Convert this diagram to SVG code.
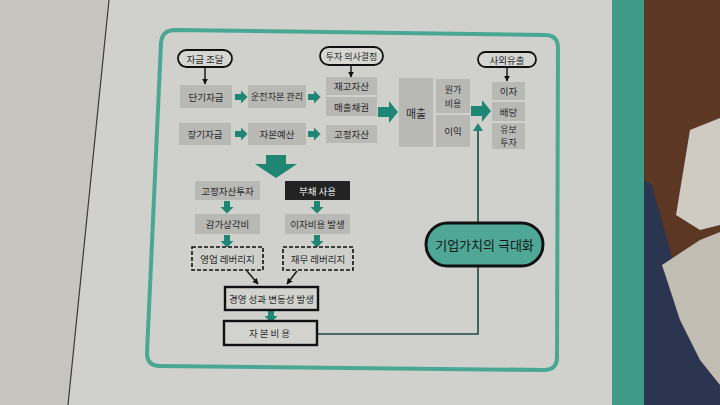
<svg xmlns="http://www.w3.org/2000/svg" xmlns:xlink="http://www.w3.org/1999/xlink" width="720" height="405" viewBox="0 0 720 405">
<style>
text{font-family:"Noto Sans CJK KR","Noto Sans",sans-serif;fill:#2a2a2a;font-size:9.5px;text-anchor:middle;dominant-baseline:central}
.sm{font-size:9px}
.box{fill:#b8b8b5}
.pill{fill:#d6d7d3;stroke:#111;stroke-width:1.8}
.dash{fill:#cfd0cc;stroke:#111;stroke-width:1.6;stroke-dasharray:4 2}
.solid{fill:#d2d3cf;stroke:#111;stroke-width:2.4}
.ga{fill:#1e8672}
.bl{stroke:#111;stroke-width:1.4;fill:none;marker-end:url(#bh)}
</style>
<defs>
<marker id="bh" viewBox="0 0 10 10" refX="9" refY="5" markerWidth="6" markerHeight="6" orient="auto" markerUnits="userSpaceOnUse"><path d="M0,0 L10,5 L0,10 Z" fill="#111"/></marker>
<path id="sa" d="M-6,-3 H0 V-6.5 L6.5,0 L0,6.5 V3 H-6 Z"/>
<path id="ba" d="M-10,-5 H1 V-11 L10,0 L1,11 V5 H-10 Z"/>
</defs>
<!-- background -->
<rect x="0" y="0" width="720" height="405" fill="#d0d1cd"/>
<path d="M0,0 H109 L68,405 H0 Z" fill="#c6c5bf"/>
<path d="M109,0 L68,405" stroke="#3a3a36" stroke-width="1.2"/>
<rect x="612" y="0" width="32" height="405" fill="#3f9a88"/>
<rect x="644" y="0" width="76" height="405" fill="#5b3724"/>
<path d="M644,180 L652,185 L670,250 L700,330 L720,360 V405 H644 Z" fill="#2c3550"/>
<path d="M676,215 L690,130 L720,118 V225 L700,230 Z" fill="#cfcbc2"/>
<path d="M662,265 L700,240 L720,232 V385 L700,360 L680,320 Z" fill="#c2bdb2"/>
<!-- frame -->
<path d="M175,30 L545,35 Q558,35 558,48 L557,357 Q557,370 544,370 L160,366 Q147,366 147,353 L161,43 Q162,30 175,30 Z" fill="none" stroke="#4aa892" stroke-width="4"/>

<g id="connectors">
<line class="bl" x1="205" y1="67" x2="205" y2="84"/>
<line class="bl" x1="351" y1="65" x2="351" y2="77"/>
<line class="bl" x1="507" y1="67" x2="507" y2="81"/>
<use href="#sa" class="ga" x="241" y="97"/>
<use href="#sa" class="ga" x="314" y="97"/>
<use href="#sa" class="ga" x="241" y="134"/>
<use href="#sa" class="ga" x="314" y="134"/>
<use href="#ba" class="ga" x="388" y="112"/>
<use href="#ba" class="ga" x="481" y="111"/>
<path class="ga" d="M266,155 H286 V164 H297 L276,178 L255,164 H266 Z"/>
<use href="#sa" class="ga" transform="translate(227,207) rotate(90)"/>
<use href="#sa" class="ga" transform="translate(317,207) rotate(90)"/>
<use href="#sa" class="ga" transform="translate(227,241) rotate(90)"/>
<use href="#sa" class="ga" transform="translate(317,241) rotate(90)"/>
<line class="bl" x1="247" y1="271" x2="258" y2="284"/>
<line class="bl" x1="297" y1="271" x2="287" y2="284"/>
<use href="#sa" class="ga" transform="translate(271,316) rotate(90)"/>
<path d="M317,334 H478 V130" fill="none" stroke="#1c4a40" stroke-width="1.6"/>
<path class="ga" d="M473,131 L478,123 L483,131 Z"/>
</g>

<g id="n-jageum"><rect class="pill" x="178" y="50" width="54" height="17" rx="8.5"/><text x="205" y="58.5">자금 조달</text></g>
<g id="n-tuja"><rect class="pill" x="320" y="47" width="63" height="18" rx="9"/><text x="351.5" y="56" class="sm">투자 의사결정</text></g>
<g id="n-saoe"><rect class="pill" x="478" y="52" width="58" height="15" rx="7.5"/><text x="507" y="59.5">사외유출</text></g>

<g id="n-dangi"><rect class="box" x="180" y="85" width="52" height="23"/><text x="206" y="96.5">단기자금</text></g>
<g id="n-unjeon"><rect class="box" x="248" y="85" width="58" height="23"/><text x="277" y="96.5" class="sm" textLength="52" lengthAdjust="spacingAndGlyphs">운전자본 관리</text></g>
<g id="n-janggi"><rect class="box" x="179" y="123" width="52" height="22"/><text x="205" y="134">장기자금</text></g>
<g id="n-jabonyesan"><rect class="box" x="248" y="123" width="58" height="22"/><text x="277" y="134">자본예산</text></g>
<g id="n-jaego"><rect class="box" x="326" y="77" width="51" height="18"/><text x="351.5" y="86">재고자산</text></g>
<g id="n-maechulchae"><rect class="box" x="326" y="97" width="51" height="19"/><text x="351.5" y="106.5">매출채권</text></g>
<g id="n-gojeong"><rect class="box" x="326" y="125" width="51" height="18"/><text x="351.5" y="134">고정자산</text></g>
<g id="n-maechul"><rect class="box" x="399" y="78" width="34" height="69"/><text x="416" y="112.5" style="font-size:11px">매출</text></g>
<g id="n-wonga"><rect class="box" x="436" y="79" width="34" height="34"/><text x="453" y="89" class="sm">원가</text><text x="453" y="103" class="sm">비용</text></g>
<g id="n-iik"><rect class="box" x="436" y="115" width="34" height="32"/><text x="453" y="131">이익</text></g>
<g id="n-ija"><rect class="box" x="492" y="82" width="33" height="18"/><text x="508.5" y="91">이자</text></g>
<g id="n-baedang"><rect class="box" x="492" y="102" width="33" height="19"/><text x="508.5" y="111.5">배당</text></g>
<g id="n-yubo"><rect class="box" x="492" y="123" width="33" height="26"/><text x="508.5" y="129" class="sm">유보</text><text x="508.5" y="142.5" class="sm">투자</text></g>

<g id="n-gojeongtuja"><rect class="box" x="195" y="181" width="65" height="19"/><text x="227.5" y="190.5">고정자산투자</text></g>
<g id="n-buchae"><rect x="285" y="181" width="65" height="19" fill="#232323"/><text x="317.5" y="190.5" style="fill:#f0f0f0">부채 사용</text></g>
<g id="n-gamga"><rect class="box" x="195" y="214" width="65" height="20"/><text x="227.5" y="224">감가상각비</text></g>
<g id="n-ijabiyong"><rect class="box" x="285" y="214" width="65" height="20"/><text x="317.5" y="224">이자비용 발생</text></g>
<g id="n-yeongeop"><rect class="dash" x="192" y="247" width="71" height="23"/><text x="227.5" y="258.5">영업 레버리지</text></g>
<g id="n-jaemu"><rect class="dash" x="283" y="247" width="70" height="23"/><text x="318" y="258.5">재무 레버리지</text></g>
<g id="n-gyeongyeong"><rect class="solid" x="225" y="287" width="93" height="23"/><text x="271.5" y="298.5">경영 성과 변동성 발생</text></g>
<g id="n-jabonbiyong"><rect class="solid" x="224" y="321" width="93" height="24"/><text x="270.5" y="333" style="letter-spacing:2px">자본비용</text></g>
<g id="n-giup"><rect x="426" y="223" width="117" height="43" rx="21.5" fill="#4fa895" stroke="#111" stroke-width="3"/><text x="484.5" y="244.5" style="font-size:13px;fill:#151515">기업가치의 극대화</text></g>
</svg>
